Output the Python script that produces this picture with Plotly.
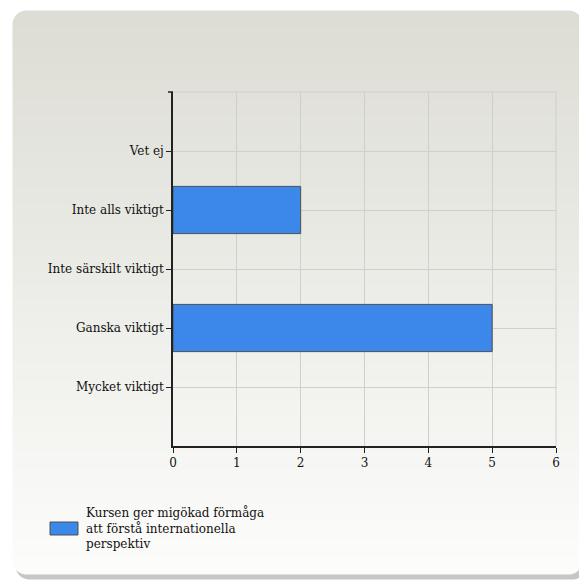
import base64, struct, zlib
import numpy as np
import plotly.graph_objects as go

categories = ["Mycket viktigt", "Ganska viktigt", "Inte särskilt viktigt", "Inte alls viktigt", "Vet ej"]
values = [0, 5, 0, 2, 0]
series_name = "Kursen ger migökad förmåga<br>att förstå internationella<br>perspektiv"
x_ticks = [0, 1, 2, 3, 4, 5, 6]

OFF = 8  # page body margin
W, H = 587 - OFF, 580 - OFF

def make_bg():
    yy, xx = np.mgrid[0:H, 0:W].astype(float)
    yy += OFF
    xx += OFF
    img = np.full((H, W, 3), 255.0)
    def rr_mask(x0, y0, x1, y1, r):
        cx = np.clip(xx, x0 + r, x1 - r)
        cy = np.clip(yy, y0 + r, y1 - r)
        d = np.sqrt((xx - cx) ** 2 + (yy - cy) ** 2)
        return np.clip(r - d + 0.5, 0, 1)
    sh = rr_mask(15, 13, 586, 579, 14)
    img = img * (1 - sh[..., None] * 0.22)
    m = rr_mask(12, 10, 582, 574, 14)
    t = np.clip((yy - 10) / (574 - 10), 0, 1)
    top = np.array([221, 221, 213.0])
    bot = np.array([253, 253, 252.0])
    col = top[None, None, :] * (1 - t[..., None]) + bot[None, None, :] * t[..., None]
    img = img * (1 - m[..., None]) + col * m[..., None]
    img = np.clip(img, 0, 255).astype(np.uint8)
    raw = b"".join(b"\x00" + img[r].tobytes() for r in range(H))
    def chunk(tag, data):
        c = struct.pack(">I", len(data)) + tag + data
        return c + struct.pack(">I", zlib.crc32(tag + data) & 0xffffffff)
    png = b"\x89PNG\r\n\x1a\n" + chunk(b"IHDR", struct.pack(">IIBBBBB", W, H, 8, 2, 0, 0, 0)) \
        + chunk(b"IDAT", zlib.compress(raw, 9)) + chunk(b"IEND", b"")
    return "data:image/png;base64," + base64.b64encode(png).decode()

# plot area in page coords: x 173..556, y 92..446
L, T = 173 - OFF, 92 - OFF
R, B = W - (556 - OFF), H - (446 - OFF)
pw, ph = W - L - R, H - T - B

font = dict(family="DejaVu Serif, serif", size=12, color="#111111")

def px(x):
    return (x - OFF - L) / pw

def py(y):
    return 1 - (y - OFF - T) / ph

fig = go.Figure()
fig.add_trace(go.Bar(
    y=list(range(len(categories))), x=values, orientation="h", width=0.8,
    marker=dict(color="#3c87ea",
                line=dict(color="#505050", width=[1 if v > 0 else 0 for v in values])),
    showlegend=False, name=series_name,
))

fig.update_layout(
    width=W, height=H,
    margin=dict(l=L, r=R, t=T, b=B, pad=0),
    paper_bgcolor="white",
    plot_bgcolor="rgba(0,0,0,0)",
    font=font,
    xaxis=dict(range=[0, 6], tickvals=x_ticks, ticktext=[str(v) for v in x_ticks],
               showgrid=True, gridcolor="#cfcfcb", gridwidth=1,
               showline=True, linecolor="#222", linewidth=1.5,
               ticks="outside", ticklen=5, tickcolor="#222", zeroline=False,
               fixedrange=True),
    yaxis=dict(range=[-1, 5], tickvals=list(range(len(categories))), ticktext=categories,
               showgrid=True, gridcolor="#cfcfcb", gridwidth=1,
               showline=True, linecolor="#222", linewidth=1.5,
               ticks="outside", ticklen=5, tickcolor="#222", zeroline=False,
               fixedrange=True),
    images=[dict(source=make_bg(), xref="paper", yref="paper",
                 x=-L / pw, y=1 + T / ph, sizex=W / pw, sizey=H / ph,
                 xanchor="left", yanchor="top", sizing="stretch", layer="below")],
    shapes=[
        dict(type="line", xref="paper", yref="paper", x0=0, x1=1, y0=1, y1=1,
             line=dict(color="#cfcfcb", width=1)),
        dict(type="line", xref="paper", yref="paper", x0=1, x1=1, y0=0, y1=1,
             line=dict(color="#cfcfcb", width=1)),
        dict(type="line", xref="paper", yref="paper", x0=-5 / pw, x1=0, y0=1, y1=1,
             line=dict(color="#222", width=1.5)),
        dict(type="rect", xref="paper", yref="paper",
             x0=px(50), x1=px(78), y0=py(535), y1=py(522),
             fillcolor="#3c87ea", line=dict(color="#505050", width=1)),
    ],
    annotations=[dict(text=series_name, xref="paper", yref="paper",
                      x=px(84), y=py(503), xanchor="left", yanchor="top",
                      align="left", showarrow=False, font=font)],
)

fig.write_html("out.html")
